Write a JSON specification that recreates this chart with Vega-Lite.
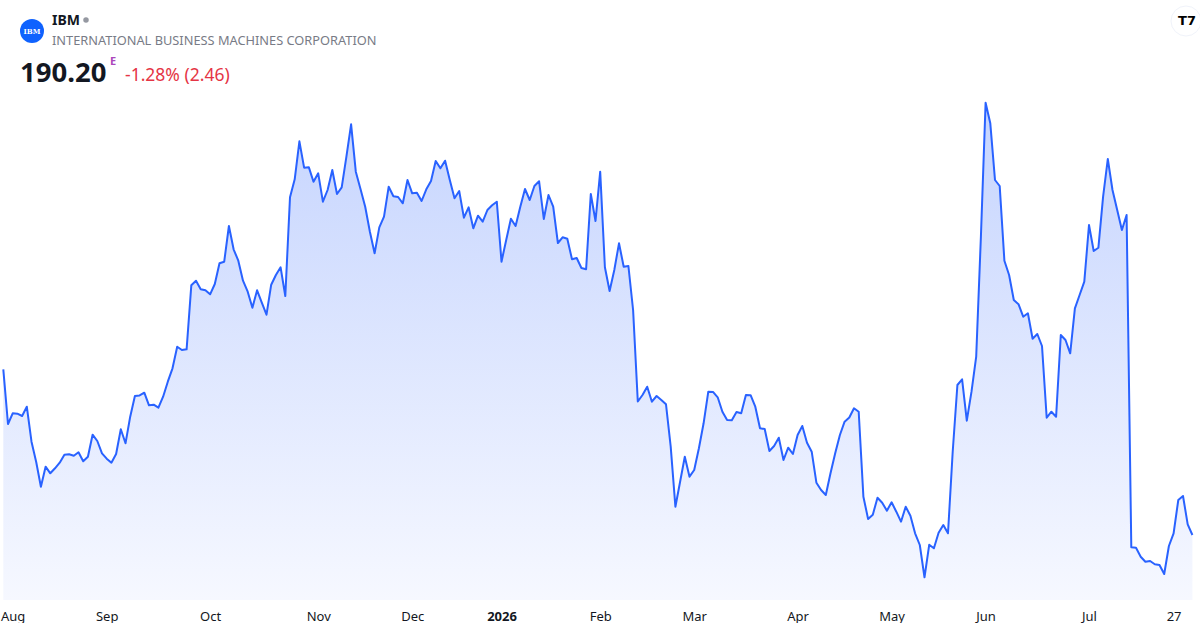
{
  "$schema": "https://vega.github.io/schema/vega-lite/v6.json",
  "description": "IBM one-year price, area chart in TradingView mini-widget style",
  "width": 1200,
  "height": 600,
  "padding": 0,
  "background": "white",
  "data": {
    "values": [
      {"i": 0, "close": 228.31}, {"i": 1, "close": 215.73}, {"i": 2, "close": 218.19}, {"i": 3, "close": 218.1},
      {"i": 4, "close": 217.57}, {"i": 5, "close": 219.71}, {"i": 6, "close": 211.66}, {"i": 7, "close": 206.99},
      {"i": 8, "close": 201.31}, {"i": 9, "close": 205.91}, {"i": 10, "close": 204.39}, {"i": 11, "close": 205.54},
      {"i": 12, "close": 206.83}, {"i": 13, "close": 208.67}, {"i": 14, "close": 208.76}, {"i": 15, "close": 208.44},
      {"i": 16, "close": 209.22}, {"i": 17, "close": 207.15}, {"i": 18, "close": 208.21}, {"i": 19, "close": 213.27},
      {"i": 20, "close": 211.82}, {"i": 21, "close": 208.99}, {"i": 22, "close": 207.75}, {"i": 23, "close": 206.83},
      {"i": 24, "close": 208.83}, {"i": 25, "close": 214.51}, {"i": 26, "close": 211.29}, {"i": 27, "close": 217.41},
      {"i": 28, "close": 222.17}, {"i": 29, "close": 222.3}, {"i": 30, "close": 222.93}, {"i": 31, "close": 220.03},
      {"i": 32, "close": 220.17}, {"i": 33, "close": 219.48}, {"i": 34, "close": 222.01}, {"i": 35, "close": 225.46},
      {"i": 36, "close": 228.54}, {"i": 37, "close": 233.51}, {"i": 38, "close": 232.75}, {"i": 39, "close": 232.91},
      {"i": 40, "close": 247.63}, {"i": 41, "close": 248.67}, {"i": 42, "close": 246.73}, {"i": 43, "close": 246.48},
      {"i": 44, "close": 245.56}, {"i": 45, "close": 247.93}, {"i": 46, "close": 252.69}, {"i": 47, "close": 253.06},
      {"i": 48, "close": 261.27}, {"i": 49, "close": 255.91}, {"i": 50, "close": 253.29}, {"i": 51, "close": 248.69},
      {"i": 52, "close": 246.16}, {"i": 53, "close": 242.48}, {"i": 54, "close": 246.48}, {"i": 55, "close": 243.63},
      {"i": 56, "close": 240.87}, {"i": 57, "close": 247.77}, {"i": 58, "close": 250.0}, {"i": 59, "close": 251.77},
      {"i": 60, "close": 245.17}, {"i": 61, "close": 267.87}, {"i": 62, "close": 272.01}, {"i": 63, "close": 280.75},
      {"i": 64, "close": 274.68}, {"i": 65, "close": 274.8}, {"i": 66, "close": 271.46}, {"i": 67, "close": 273.39},
      {"i": 68, "close": 266.86}, {"i": 69, "close": 269.55}, {"i": 70, "close": 274.15}, {"i": 71, "close": 268.63},
      {"i": 72, "close": 270.17}, {"i": 73, "close": 277.21}, {"i": 74, "close": 284.66}, {"i": 75, "close": 273.76},
      {"i": 76, "close": 269.78}, {"i": 77, "close": 265.71}, {"i": 78, "close": 259.96}, {"i": 79, "close": 254.99},
      {"i": 80, "close": 260.97}, {"i": 81, "close": 263.41}, {"i": 82, "close": 270.31}, {"i": 83, "close": 268.1},
      {"i": 84, "close": 267.94}, {"i": 85, "close": 266.49}, {"i": 86, "close": 271.85}, {"i": 87, "close": 268.79},
      {"i": 88, "close": 268.93}, {"i": 89, "close": 267.02}, {"i": 90, "close": 269.71}, {"i": 91, "close": 271.62},
      {"i": 92, "close": 276.22}, {"i": 93, "close": 274.54}, {"i": 94, "close": 276.29}, {"i": 95, "close": 271.85},
      {"i": 96, "close": 267.64}, {"i": 97, "close": 269.32}, {"i": 98, "close": 263.18}, {"i": 99, "close": 265.57},
      {"i": 100, "close": 260.74}, {"i": 101, "close": 263.64}, {"i": 102, "close": 262.26}, {"i": 103, "close": 264.95},
      {"i": 104, "close": 266.03}, {"i": 105, "close": 266.86}, {"i": 106, "close": 253.06}, {"i": 107, "close": 258.05},
      {"i": 108, "close": 262.95}, {"i": 109, "close": 261.27}, {"i": 110, "close": 265.71}, {"i": 111, "close": 269.78},
      {"i": 112, "close": 267.25}, {"i": 113, "close": 270.47}, {"i": 114, "close": 271.55}, {"i": 115, "close": 262.88},
      {"i": 116, "close": 268.4}, {"i": 117, "close": 265.71}, {"i": 118, "close": 257.36}, {"i": 119, "close": 258.67},
      {"i": 120, "close": 258.35}, {"i": 121, "close": 253.61}, {"i": 122, "close": 253.91}, {"i": 123, "close": 251.61},
      {"i": 124, "close": 251.31}, {"i": 125, "close": 268.63}, {"i": 126, "close": 262.42}, {"i": 127, "close": 273.76},
      {"i": 128, "close": 251.77}, {"i": 129, "close": 246.32}, {"i": 130, "close": 251.15}, {"i": 131, "close": 257.29},
      {"i": 132, "close": 251.9}, {"i": 133, "close": 252.07}, {"i": 134, "close": 241.95}, {"i": 135, "close": 220.9},
      {"i": 136, "close": 222.4}, {"i": 137, "close": 224.31}, {"i": 138, "close": 220.86}, {"i": 139, "close": 222.17},
      {"i": 140, "close": 221.25}, {"i": 141, "close": 220.26}, {"i": 142, "close": 210.51}, {"i": 143, "close": 196.71},
      {"i": 144, "close": 202.46}, {"i": 145, "close": 208.21}, {"i": 146, "close": 203.61}, {"i": 147, "close": 205.15},
      {"i": 148, "close": 210.14}, {"i": 149, "close": 215.89}, {"i": 150, "close": 223.16}, {"i": 151, "close": 223.1},
      {"i": 152, "close": 221.87}, {"i": 153, "close": 218.56}, {"i": 154, "close": 216.65}, {"i": 155, "close": 216.6},
      {"i": 156, "close": 218.49}, {"i": 157, "close": 218.19}, {"i": 158, "close": 222.4}, {"i": 159, "close": 222.35},
      {"i": 160, "close": 219.71}, {"i": 161, "close": 214.74}, {"i": 162, "close": 214.58}, {"i": 163, "close": 209.52},
      {"i": 164, "close": 210.67}, {"i": 165, "close": 212.58}, {"i": 166, "close": 207.45}, {"i": 167, "close": 210.28},
      {"i": 168, "close": 208.83}, {"i": 169, "close": 213.2}, {"i": 170, "close": 215.27}, {"i": 171, "close": 211.43},
      {"i": 172, "close": 209.36}, {"i": 173, "close": 202.23}, {"i": 174, "close": 200.55}, {"i": 175, "close": 199.4},
      {"i": 176, "close": 204.39}, {"i": 177, "close": 208.99}, {"i": 178, "close": 213.2}, {"i": 179, "close": 216.26},
      {"i": 180, "close": 217.22}, {"i": 181, "close": 219.34}, {"i": 182, "close": 218.54}, {"i": 183, "close": 199.01},
      {"i": 184, "close": 193.88}, {"i": 185, "close": 194.87}, {"i": 186, "close": 198.78}, {"i": 187, "close": 197.63},
      {"i": 188, "close": 195.79}, {"i": 189, "close": 197.72}, {"i": 190, "close": 195.56}, {"i": 191, "close": 193.26},
      {"i": 192, "close": 196.71}, {"i": 193, "close": 194.64}, {"i": 194, "close": 190.59}, {"i": 195, "close": 187.9},
      {"i": 196, "close": 180.47}, {"i": 197, "close": 187.95}, {"i": 198, "close": 187.14}, {"i": 199, "close": 190.73},
      {"i": 200, "close": 192.5}, {"i": 201, "close": 190.59}, {"i": 202, "close": 209.36}, {"i": 203, "close": 224.7},
      {"i": 204, "close": 226.01}, {"i": 205, "close": 216.49}, {"i": 206, "close": 223.16}, {"i": 207, "close": 231.21},
      {"i": 208, "close": 258.81}, {"i": 209, "close": 289.63}, {"i": 210, "close": 284.89}, {"i": 211, "close": 271.85},
      {"i": 212, "close": 270.47}, {"i": 213, "close": 253.29}, {"i": 214, "close": 250.0}, {"i": 215, "close": 244.25},
      {"i": 216, "close": 243.28}, {"i": 217, "close": 240.41}, {"i": 218, "close": 241.19}, {"i": 219, "close": 235.35},
      {"i": 220, "close": 236.43}, {"i": 221, "close": 233.67}, {"i": 222, "close": 217.18}, {"i": 223, "close": 218.56},
      {"i": 224, "close": 217.41}, {"i": 225, "close": 236.2}, {"i": 226, "close": 235.05}, {"i": 227, "close": 231.99},
      {"i": 228, "close": 242.34}, {"i": 229, "close": 245.4}, {"i": 230, "close": 248.46}, {"i": 231, "close": 261.5},
      {"i": 232, "close": 255.52}, {"i": 233, "close": 256.28}, {"i": 234, "close": 268.01}, {"i": 235, "close": 276.68},
      {"i": 236, "close": 269.55}, {"i": 237, "close": 264.95}, {"i": 238, "close": 260.35}, {"i": 239, "close": 263.8},
      {"i": 240, "close": 187.37}, {"i": 241, "close": 187.28}, {"i": 242, "close": 185.21}, {"i": 243, "close": 184.06},
      {"i": 244, "close": 184.22}, {"i": 245, "close": 183.46}, {"i": 246, "close": 183.3}, {"i": 247, "close": 181.23},
      {"i": 248, "close": 187.67}, {"i": 249, "close": 190.59}, {"i": 250, "close": 198.25}, {"i": 251, "close": 199.17},
      {"i": 252, "close": 192.66}, {"i": 253, "close": 190.2}
    ]
  },
  "layer": [
    {
      "mark": {
        "type": "area",
        "color": {
          "gradient": "linear",
          "x1": 0, "y1": 0, "x2": 0, "y2": 1,
          "stops": [
            {"offset": 0, "color": "#c5d4fe"},
            {"offset": 1, "color": "#f6f8ff"}
          ]
        }
      },
      "encoding": {
        "x": {
          "field": "i",
          "type": "quantitative",
          "scale": {"domain": [-0.49, 254.83], "nice": false, "zero": false},
          "axis": {
            "title": null,
            "domain": false,
            "ticks": false,
            "grid": false,
            "values": [2, 22, 44, 67, 87, 106, 127, 147, 169, 189, 209, 231, 249],
            "labelExpr": "['Aug','Sep','Oct','Nov','Dec','2026','Feb','Mar','Apr','May','Jun','Jul','27'][indexof([2,22,44,67,87,106,127,147,169,189,209,231,249], datum.value)]",
            "labelFont": "Noto Sans",
            "labelFontSize": 13,
            "labelColor": "#131722",
            "labelFontWeight": {"condition": {"test": "datum.value == 106", "value": "bold"}, "value": "normal"},
            "labelPadding": 10,
            "labelOverlap": false,
            "labelFlush": false,
            "labelBound": false
          }
        },
        "y": {
          "field": "close",
          "type": "quantitative",
          "scale": {"domain": [175.25, 313.25], "nice": false, "zero": false},
          "axis": null
        },
        "y2": {"datum": 175.25}
      }
    },
    {
      "mark": {"type": "line", "color": "#2962ff", "strokeWidth": 2, "strokeJoin": "round"},
      "encoding": {
        "x": {"field": "i", "type": "quantitative"},
        "y": {"field": "close", "type": "quantitative"}
      }
    },
    {
      "data": {"values": [{"t": ""}]},
      "mark": {"type": "point", "shape": "circle", "filled": true, "color": "#0f62fe", "size": 576, "opacity": 1},
      "encoding": {"x": {"value": 31}, "y": {"value": 31}}
    },
    {
      "data": {"values": [{"t": "IBM"}]},
      "mark": {"type": "text", "font": "DejaVu Serif", "fontSize": 7, "fontWeight": "bold", "color": "white", "align": "center", "baseline": "middle"},
      "encoding": {"text": {"field": "t"}, "x": {"value": 31}, "y": {"value": 31.5}}
    },
    {
      "data": {"values": [{"t": "IBM"}]},
      "mark": {"type": "text", "font": "Noto Sans", "fontSize": 14, "fontWeight": "bold", "color": "#131722", "align": "left", "baseline": "alphabetic"},
      "encoding": {"text": {"field": "t"}, "x": {"value": 51}, "y": {"value": 25}}
    },
    {
      "data": {"values": [{"t": ""}]},
      "mark": {"type": "point", "shape": "circle", "filled": true, "color": "#9598a1", "size": 30, "opacity": 1},
      "encoding": {"x": {"value": 85}, "y": {"value": 20}}
    },
    {
      "data": {"values": [{"t": "INTERNATIONAL BUSINESS MACHINES CORPORATION"}]},
      "mark": {"type": "text", "font": "Noto Sans", "fontSize": 12.8, "color": "#787b86", "align": "left", "baseline": "alphabetic"},
      "encoding": {"text": {"field": "t"}, "x": {"value": 51}, "y": {"value": 45}}
    },
    {
      "data": {"values": [{"t": "190.20"}]},
      "mark": {"type": "text", "font": "Noto Sans", "fontSize": 27.5, "fontWeight": "bold", "color": "#131722", "align": "left", "baseline": "alphabetic"},
      "encoding": {"text": {"field": "t"}, "x": {"value": 19}, "y": {"value": 82}}
    },
    {
      "data": {"values": [{"t": "E"}]},
      "mark": {"type": "text", "font": "Noto Sans", "fontSize": 11, "fontWeight": "bold", "color": "#ab47bc", "align": "left", "baseline": "alphabetic"},
      "encoding": {"text": {"field": "t"}, "x": {"value": 109}, "y": {"value": 65}}
    },
    {
      "data": {"values": [{"t": "-1.28% (2.46)"}]},
      "mark": {"type": "text", "font": "Noto Sans", "fontSize": 17.5, "color": "#e53545", "align": "left", "baseline": "alphabetic"},
      "encoding": {"text": {"field": "t"}, "x": {"value": 124}, "y": {"value": 81}}
    },
    {
      "data": {"values": [{"t": ""}]},
      "mark": {"type": "point", "shape": "circle", "filled": true, "color": "white", "size": 900, "opacity": 1, "stroke": "#f0f3fa", "strokeWidth": 1},
      "encoding": {"x": {"value": 1185}, "y": {"value": 21}}
    },
    {
      "data": {"values": [{"t": "T7"}]},
      "mark": {"type": "text", "font": "DejaVu Sans", "fontSize": 13, "fontWeight": "bold", "color": "#000000", "align": "center", "baseline": "middle"},
      "encoding": {"text": {"field": "t"}, "x": {"value": 1186}, "y": {"value": 21}}
    }
  ],
  "config": {
    "view": {"stroke": null},
    "font": "Noto Sans"
  }
}
